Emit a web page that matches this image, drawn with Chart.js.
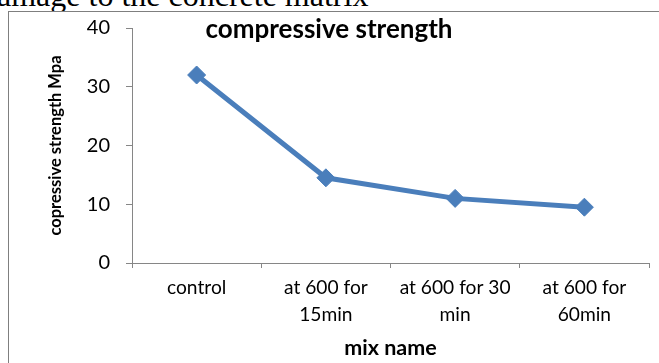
<!DOCTYPE html>
<html>
<head>
<meta charset="utf-8">
<script src="https://cdn.jsdelivr.net/npm/chart.js@4"></script>
<style>
  html, body { margin: 0; padding: 0; background: #fff; overflow: hidden; }
  #page { position: relative; width: 659px; height: 363px; overflow: hidden; }
  #doc-text {
    position: absolute; left: -19px; top: -21px;
    font-family: "Liberation Serif", "Times New Roman", serif;
    font-size: 32px; line-height: 32px; color: #000; white-space: nowrap;
  }
  #frame {
    position: absolute; left: 8px; top: 11px; width: 700px; height: 400px;
    border: 1px solid #7f7f7f; background: #fff;
  }
  #chart-wrap { position: absolute; left: 0; top: 0; width: 659px; height: 363px; }
</style>
</head>
<body>
<div id="page">
  <div id="doc-text">damage to the concrete matrix</div>
  <div id="frame"></div>
  <div id="chart-wrap"><canvas id="strength-chart" width="659" height="363"></canvas></div>
</div>
<script>
var mix_names = [
  ['control'],
  ['at 600 for', '15min'],
  ['at 600 for 30', 'min'],
  ['at 600 for', '60min']
]
var strength_values = [32, 14.5, 11, 9.5]
var y_ticks = [0, 10, 20, 30, 40]

var chart_blue = '#4a7ebb'
var axis_grey = '#868686'
var font_family = 'Lato, "Open Sans", sans-serif'

// chart title sits inside the plot area, like the excel original
var title_plugin = {
  id: 'inner_title',
  afterDraw(chart) {
    var c = chart.ctx
    c.save()
    c.font = 'bold 26px ' + font_family
    c.fillStyle = '#000'
    c.textAlign = 'center'
    c.textBaseline = 'alphabetic'
    c.fillText('compressive strength', 329, 38)
    c.restore()
  }
}

var ctx = document.getElementById('strength-chart').getContext('2d')
var chart = new Chart(ctx, {
  type: 'line',
  data: {
    labels: mix_names,
    datasets: [{
      label: 'compressive strength',
      data: strength_values,
      borderColor: chart_blue,
      backgroundColor: chart_blue,
      borderWidth: 5,
      pointStyle: 'rectRot',
      pointRadius: 9,
      pointBorderWidth: 1,
      pointBackgroundColor: chart_blue,
      pointBorderColor: chart_blue,
      tension: 0
    }]
  },
  options: {
    responsive: false,
    animation: false,
    layout: {
      padding: { left: 46, right: 7, top: 27, bottom: 0 }
    },
    scales: {
      x: {
        type: 'category',
        offset: true,
        afterFit: function(scale) { scale.height = 100 },
        border: { display: true, color: axis_grey, width: 1 },
        grid: {
          offset: true,
          drawOnChartArea: false,
          drawTicks: true,
          tickLength: 5,
          color: axis_grey
        },
        ticks: {
          color: '#000',
          padding: 7,
          maxRotation: 0,
          minRotation: 0,
          autoSkip: false,
          font: { family: font_family, size: 19.2, lineHeight: 1.38 }
        },
        title: {
          display: true,
          text: 'mix name',
          color: '#000',
          padding: { top: 0, bottom: 2 },
          font: { family: font_family, size: 21.5, weight: 'bold', lineHeight: 1.2 }
        }
      },
      y: {
        min: 0,
        max: 40,
        afterFit: function(scale) { scale.width = 86 },
        afterBuildTicks: function(scale) {
          scale.ticks = y_ticks.map(function(v) { return { value: v } })
        },
        border: { display: true, color: axis_grey, width: 1 },
        grid: {
          drawOnChartArea: false,
          drawTicks: true,
          tickLength: 6,
          color: axis_grey
        },
        ticks: {
          color: '#000',
          padding: 16,
          font: { family: font_family, size: 20 }
        },
        title: {
          display: true,
          text: 'copressive strength Mpa',
          color: '#000',
          padding: { top: 0, bottom: 0 },
          font: { family: font_family, size: 16.5, weight: 'bold', lineHeight: 1.2 }
        }
      }
    },
    plugins: {
      legend: { display: false },
      tooltip: { enabled: false }
    }
  },
  plugins: [title_plugin]
})
</script>
</body>
</html>
